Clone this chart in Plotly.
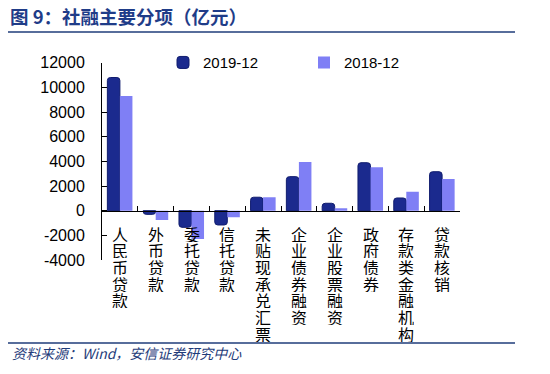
import plotly.graph_objects as go

categories = ["人民币贷款", "外币贷款", "委托贷款", "信托贷款", "未贴现承兑汇票",
              "企业债券融资", "企业股票融资", "政府债券", "存款类金融机构", "贷款核销"]
series_names = ["2019-12", "2018-12"]
v2019 = [10800, -300, -1350, -1160, 1090, 2760, 600, 3890, 1030, 3160]
v2018 = [9300, -750, -2300, -540, 1090, 3950, 190, 3520, 1540, 2570]
ytick_vals = [-4000, -2000, 0, 2000, 4000, 6000, 8000, 10000, 12000]
ytick_text = ["-4000", "-2000", "0", "2000", "4000", "6000", "8000", "10000", "12000"]

# The page body has a default 8px margin, so the figure is drawn offset by 8px.
OFF = 8
W, H = 550 - OFF, 374 - OFF
# layout described in screen pixels, converted to figure pixels
SCR_LEFT, SCR_RIGHT, SCR_TOP, SCR_BOTTOM = 102, 460, 40, 260
L, R = SCR_LEFT - OFF, W - (SCR_RIGHT - OFF)
T, B = SCR_TOP - OFF, H - (SCR_BOTTOM - OFF)
PW, PH = W - L - R, H - T - B
SCR_PLOT_TOP = 62.7
Y_TOP = (SCR_BOTTOM - SCR_PLOT_TOP) / PH


def px_x(p):
    return (p - SCR_LEFT) / PW


def px_y(p):
    return (SCR_BOTTOM - p) / PH


DARK = "#1B2A8E"
LIGHT = "#7F7FF5"

fig = go.Figure()
fig.add_trace(go.Bar(x=categories, y=v2019, name=series_names[0],
                     marker=dict(color=DARK, line=dict(color="#101C6E", width=1), cornerradius=3)))
fig.add_trace(go.Bar(x=categories, y=v2018, name=series_names[1],
                     marker=dict(color=LIGHT, line=dict(width=0))))

annotations = []
step = 16.7
for cat in categories:
    for j, ch in enumerate(cat):
        annotations.append(dict(x=cat, y=0, xref="x", yref="y", text=ch, showarrow=False,
                                yanchor="middle", xanchor="center", yshift=-(23 + j * step),
                                height=16, valign="middle",
                                font=dict(family="Noto Sans CJK SC", size=16, color="#000000")))

annotations.append(dict(xref="paper", yref="paper", x=px_x(10), y=px_y(353), xanchor="left",
                        yanchor="middle", showarrow=False,
                        text="<i>资料来源：Wind，安信证券研究中心</i>",
                        font=dict(family="Noto Sans CJK SC", size=14, color="#1F3C7A")))

fig.update_layout(
    width=W, height=H, autosize=False,
    margin=dict(l=L, r=R, t=T, b=B, pad=0),
    paper_bgcolor="white", plot_bgcolor="white",
    barmode="group", bargap=0.3, bargroupgap=0.0,
    title=dict(text="<b>图 9：社融主要分项（亿元）</b>", xref="container", yref="container",
               x=(10 - OFF) / W, y=1 - (18 - OFF) / H, xanchor="left", yanchor="middle",
               font=dict(family="Noto Sans CJK SC", size=18.5, color="#1F3C88")),
    showlegend=True,
    legend=dict(orientation="h", x=px_x(163), y=px_y(62.7), xanchor="left", yanchor="middle",
                font=dict(family="Liberation Sans", size=15, color="#000000"),
                entrywidth=96, entrywidthmode="pixels", bgcolor="rgba(0,0,0,0)",
                traceorder="normal"),
    xaxis=dict(anchor="free", position=0.25 * Y_TOP, showline=True, linecolor="#000000",
               linewidth=1, ticks="inside", tickson="boundaries", ticklen=5,
               tickcolor="#000000", showticklabels=False, showgrid=False, zeroline=False),
    yaxis=dict(domain=[0, Y_TOP], range=[-4000, 12000], tickvals=ytick_vals,
               ticktext=ytick_text, showline=True, linecolor="#000000", linewidth=1,
               ticks="inside", ticklen=5, tickcolor="#000000", showgrid=False,
               zeroline=False, ticklabelstandoff=13,
               tickfont=dict(family="Liberation Sans", size=16, color="#000000")),
    annotations=annotations,
    shapes=[
        dict(type="line", xref="paper", yref="paper", x0=px_x(8), x1=px_x(515),
             y0=px_y(32), y1=px_y(32), line=dict(color="#1F3C7A", width=1.5)),
        dict(type="line", xref="paper", yref="paper", x0=px_x(8), x1=px_x(515),
             y0=px_y(343), y1=px_y(343), line=dict(color="#1F3C7A", width=1.5)),
    ],
)

fig.write_html("out.html")
